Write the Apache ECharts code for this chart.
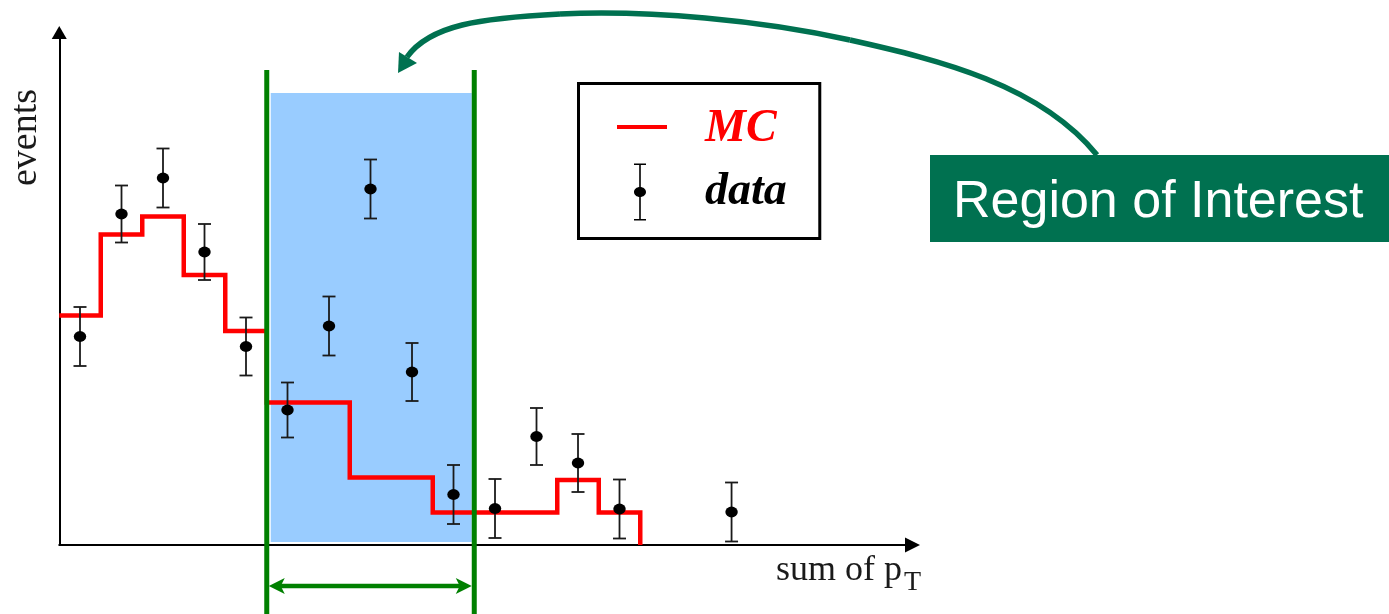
<!DOCTYPE html>
<html>
<head>
<meta charset="utf-8">
<script src="https://cdn.jsdelivr.net/npm/echarts@6/dist/echarts.min.js"></script>
<style>
  html, body { margin: 0; padding: 0; background: #fff; }
  #chart { width: 1389px; height: 614px; }
</style>
</head>
<body>
<div id="chart"></div>
<script>
// MC histogram: left bin edges (sum of pT) and the bin content from that edge on
const mcEdges  = [0, 1, 2, 3, 4, 5, 7, 9, 12, 13, 14];
const mcValues = [22.95, 31.05, 32.85, 27.0, 21.4, 14.25, 6.75, 3.25, 6.5, 3.25, 0];

// measured data points: bin position, events, symmetric error
const dataX   = [0.5, 1.5, 2.5, 3.5, 4.5, 5.5, 6.5, 7.5, 8.5, 9.5, 10.5, 11.5, 12.5, 13.5, 16.2];
const dataY   = [20.85, 33.1, 36.7, 29.3, 19.85, 13.5, 21.9, 35.6, 17.3, 5.05, 3.65, 10.85, 8.2, 3.6, 3.3];
const dataErr = [2.95, 2.85, 2.95, 2.8, 2.9, 2.75, 2.95, 2.95, 2.9, 2.95, 2.95, 2.85, 2.9, 2.95, 2.95];

// selected window in sum of pT, and the heights of its shading / boundary lines
const regionBounds  = [5, 10];
const regionFillTop = 45.2;
const regionLineTop = 47.5;

const ROI_GREEN = '#007150';
const EDGE_GREEN = '#008000';

const chart = echarts.init(document.getElementById('chart'), null, { renderer: 'canvas' });

function renderRegionFill(params, api) {
  const l = api.coord([api.value(0), 0]);
  const r = api.coord([api.value(1), regionFillTop]);
  return {
    type: 'rect',
    shape: { x: l[0] + 4, y: r[1], width: (r[0] - 2.5) - (l[0] + 4), height: (l[1] - 3) - r[1] },
    style: { fill: '#99CCFF' }
  };
}

function renderRegionEdges(params, api) {
  const l = api.coord([api.value(0), regionLineTop]);
  const r = api.coord([api.value(1), regionLineTop]);
  const base = api.coord([api.value(0), 0]);
  const bottom = api.getHeight();
  const ay = base[1] + 41;          // width arrow below the axis
  const x1 = l[0] + 2, x2 = r[0] - 2.5;
  const head = 16, half = 8, notch = 4;
  return {
    type: 'group',
    children: [
      { type: 'line', shape: { x1: l[0], y1: l[1], x2: l[0], y2: bottom }, style: { stroke: EDGE_GREEN, lineWidth: 5 } },
      { type: 'line', shape: { x1: r[0], y1: r[1], x2: r[0], y2: bottom }, style: { stroke: EDGE_GREEN, lineWidth: 5 } },
      { type: 'line', shape: { x1: x1 + 8, y1: ay, x2: x2 - 8, y2: ay }, style: { stroke: EDGE_GREEN, lineWidth: 4.5 } },
      { type: 'polygon', shape: { points: [[x1, ay], [x1 + head, ay - half], [x1 + head - notch, ay], [x1 + head, ay + half]] }, style: { fill: EDGE_GREEN } },
      { type: 'polygon', shape: { points: [[x2, ay], [x2 - head, ay - half], [x2 - head + notch, ay], [x2 - head, ay + half]] }, style: { fill: EDGE_GREEN } }
    ]
  };
}

function renderErrorPoint(params, api) {
  const x = api.value(0), y = api.value(1), e = api.value(2);
  const c = api.coord([x, y]);
  const hi = api.coord([x, y + e]);
  const lo = api.coord([x, y - e]);
  const cap = 6.5;
  const bar = { stroke: '#1a1a1a', lineWidth: 1.8 };
  return {
    type: 'group',
    children: [
      { type: 'line', shape: { x1: c[0], y1: hi[1], x2: c[0], y2: lo[1] }, style: bar },
      { type: 'line', shape: { x1: c[0] - cap, y1: hi[1], x2: c[0] + cap, y2: hi[1] }, style: bar },
      { type: 'line', shape: { x1: c[0] - cap, y1: lo[1], x2: c[0] + cap, y2: lo[1] }, style: bar },
      { type: 'circle', x: c[0], y: c[1], scaleX: 1.15, shape: { cx: 0, cy: 0, r: 5.4 }, style: { fill: '#000' } }
    ]
  };
}

// legend icons, drawn in an 83 x 57 box (all sub-paths clockwise so they fill together)
const ICON_BOX = ' M0,0L0.01,0L0,0.01Z M82.99,57L83,57L83,56.99Z';
const mcIcon = 'path://M0,24.5H50V28.5H0Z' + ICON_BOX;
const dataIcon = 'path://M17,0H29V1.6H17Z M22.2,0H23.8V57H22.2Z M17,55.4H29V57H17Z ' +
                 'M17,28.5C17,25.74 19.69,23.5 23,23.5C26.31,23.5 29,25.74 29,28.5' +
                 'C29,31.26 26.31,33.5 23,33.5C19.69,33.5 17,31.26 17,28.5Z' + ICON_BOX;

const legendFont = { fontFamily: 'Liberation Serif', fontStyle: 'italic', fontWeight: 'bold', fontSize: 46 };

// curved pointer from the label box back to the selected window
const pointerStyle = { fill: null, stroke: ROI_GREEN, lineWidth: 5.5 };

const option = {
  animation: false,
  backgroundColor: '#ffffff',
  grid: { left: 59.25, right: 476.5, top: 32.5, bottom: 69 },
  xAxis: {
    type: 'value', min: 0, max: 20.56,
    axisLine: { show: true, onZero: false, lineStyle: { color: '#000', width: 2 }, symbol: ['none', 'triangle'], symbolSize: [15, 15] },
    axisTick: { show: false }, axisLabel: { show: false }, splitLine: { show: false }
  },
  yAxis: {
    type: 'value', min: 0, max: 51.25,
    axisLine: { show: true, onZero: false, lineStyle: { color: '#000', width: 2 }, symbol: ['none', 'triangle'], symbolSize: [15, 13] },
    axisTick: { show: false }, axisLabel: { show: false }, splitLine: { show: false }
  },
  legend: {
    orient: 'vertical',
    left: 578.5, top: 83.5,
    padding: [17, 33, 18, 38.5],
    itemWidth: 83, itemHeight: 57, itemGap: 6,
    borderColor: '#000', borderWidth: 3,
    selectedMode: false,
    itemStyle: { borderWidth: 0 },
    data: [
      { name: 'MC', icon: mcIcon, textStyle: Object.assign({ color: '#ff0000' }, legendFont) },
      { name: 'data', icon: dataIcon, textStyle: Object.assign({ color: '#000' }, legendFont) }
    ]
  },
  series: [
    {
      name: 'region', type: 'custom', z: 1, clip: false, silent: true,
      renderItem: renderRegionFill,
      data: [[regionBounds[0], regionBounds[1]]],
      encode: { x: [0, 1] }
    },
    {
      name: 'MC', type: 'line', z: 2, step: 'end', symbol: 'none',
      itemStyle: { color: '#ff0000' },
      lineStyle: { color: '#ff0000', width: 4.5, join: 'miter' },
      data: mcEdges.map((e, i) => [e, mcValues[i]])
    },
    {
      name: 'bounds', type: 'custom', z: 3, clip: false, silent: true,
      renderItem: renderRegionEdges,
      data: [[regionBounds[0], regionBounds[1]]],
      encode: { x: [0, 1] }
    },
    {
      name: 'data', type: 'custom', z: 4,
      itemStyle: { color: '#000' },
      renderItem: renderErrorPoint,
      data: dataX.map((x, i) => [x, dataY[i], dataErr[i]]),
      encode: { x: 0, y: 1 }
    }
  ],
  graphic: [
    {
      type: 'text', x: 26, y: 137.5, rotation: Math.PI / 2,
      style: { text: 'events', fill: '#1a1a1a', font: '38px "Liberation Serif"', align: 'center', verticalAlign: 'middle' }
    },
    {
      type: 'text', x: 776, y: 571,
      style: { text: 'sum of p', fill: '#1a1a1a', font: '36px "Liberation Serif"', align: 'left', verticalAlign: 'middle' }
    },
    {
      type: 'text', x: 904, y: 583,
      style: { text: 'T', fill: '#1a1a1a', font: '28px "Liberation Serif"', align: 'left', verticalAlign: 'middle' }
    },
    {
      type: 'bezierCurve', z: 10,
      shape: { x1: 1097, y1: 155, cpx1: 1040, cpy1: 85, cpx2: 940, cpy2: 60, x2: 850, y2: 40 },
      style: pointerStyle
    },
    {
      type: 'bezierCurve', z: 10,
      shape: { x1: 850, y1: 40, cpx1: 760, cpy1: 20, cpx2: 650, cpy2: 10, x2: 560, y2: 14 },
      style: pointerStyle
    },
    {
      type: 'bezierCurve', z: 10,
      shape: { x1: 560, y1: 14, cpx1: 480, cpy1: 18, cpx2: 430, cpy2: 25, x2: 407, y2: 57 },
      style: pointerStyle
    },
    {
      type: 'polygon', z: 10,
      shape: { points: [[398, 73], [399, 52], [417, 63]] },
      style: { fill: ROI_GREEN }
    },
    {
      type: 'rect', z: 10,
      shape: { x: 930, y: 155, width: 459, height: 87 },
      style: { fill: ROI_GREEN }
    },
    {
      type: 'text', z: 11, x: 953, y: 203,
      style: { text: 'Region of Interest', fill: '#ffffff', font: '52px "Liberation Sans"', align: 'left', verticalAlign: 'middle' }
    }
  ]
};

chart.setOption(option);
</script>
</body>
</html>
